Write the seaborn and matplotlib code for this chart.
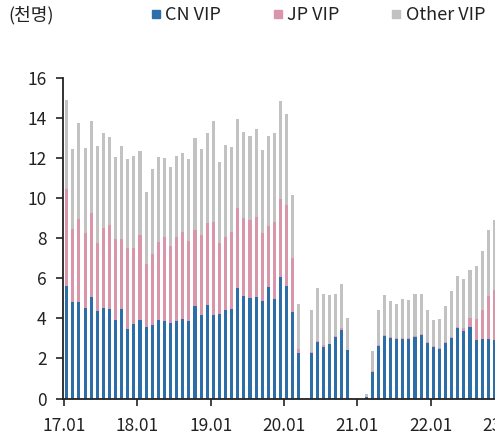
import matplotlib
matplotlib.use("Agg")
import matplotlib.pyplot as plt
from matplotlib.lines import Line2D
import numpy as np
import pandas as pd
import seaborn as sns

# monthly VIP visitors (thousand), 17.01 - 22.11
months = [f"{y}.{m:02d}" for y in range(17, 23) for m in range(1, 13)][:71]
cn = [5.62, 4.82, 4.82, 4.53, 5.07, 4.38, 4.50, 4.45, 3.93, 4.47, 3.48, 3.70,
      3.92, 3.57, 3.67, 3.93, 3.88, 3.78, 3.87, 3.97, 3.88, 4.62, 4.17, 4.68,
      4.18, 4.22, 4.42, 4.47, 5.52, 5.12, 5.03, 5.07, 4.85, 5.58, 4.95, 6.05,
      5.62, 4.33, 2.27, 0.00, 2.28, 2.82, 2.57, 2.72, 3.07, 3.42, 2.40, 0.00,
      0.00, 0.05, 1.33, 2.63, 3.12, 3.02, 2.97, 2.97, 2.98, 3.07, 3.15, 2.75,
      2.58, 2.47, 2.77, 3.02, 3.53, 3.37, 3.58, 2.90, 2.97, 2.97, 2.93]
jp = [4.85, 3.66, 4.15, 3.72, 4.20, 3.39, 4.03, 4.22, 4.04, 3.50, 4.04, 3.82,
      4.26, 3.16, 3.56, 3.89, 4.19, 3.85, 4.20, 4.35, 4.00, 3.81, 4.01, 4.09,
      4.65, 3.55, 3.65, 3.86, 4.01, 3.91, 3.90, 4.01, 3.42, 3.05, 3.88, 3.93,
      4.06, 2.70, 0.20, 0.00, 0.02, 0.03, 0.10, 0.01, 0.06, 0.11, 0.03, 0.00,
      0.00, 0.00, 0.04, 0.04, 0.03, 0.05, 0.03, 0.03, 0.04, 0.05, 0.05, 0.05,
      0.05, 0.03, 0.05, 0.03, 0.05, 0.16, 0.42, 1.08, 1.46, 2.16, 2.50]
other = [4.43, 4.00, 4.78, 4.28, 4.58, 4.86, 4.75, 4.41, 4.08, 4.63, 4.45, 4.61,
         4.19, 3.60, 4.22, 4.23, 3.93, 3.94, 4.05, 3.95, 4.09, 4.59, 4.30, 4.50,
         5.02, 4.06, 4.58, 4.24, 4.45, 4.27, 4.17, 4.37, 4.15, 4.49, 4.44, 4.89,
         4.52, 3.14, 2.26, 0.00, 2.13, 2.65, 2.55, 2.44, 2.10, 2.20, 1.59, 0.00,
         0.00, 0.15, 1.00, 1.75, 2.00, 1.80, 1.70, 1.97, 1.90, 2.08, 2.00, 1.60,
         1.27, 1.45, 1.80, 2.32, 2.52, 2.45, 2.43, 2.64, 2.92, 3.29, 3.49]
tick_labels = ["17.01", "18.01", "19.01", "20.01", "21.01", "22.01", "23.01"]

BLUE = "#2d6ea9"
PINK = "#d996ab"
GRAY = "#c2c2c2"
INK = "#222222"

sns.set_style("ticks")
plt.rcParams["font.family"] = ["Noto Sans CJK KR", "DejaVu Sans"]

df = pd.DataFrame({"month": months, "cn": cn, "jp": jp, "other": other})
df["pos"] = np.arange(len(df)) + 0.44
df["cnjp"] = df.cn + df.jp
df["total"] = df.cnjp + df.other

fig = plt.figure(figsize=(4.95, 4.36), dpi=100)
ax = fig.add_axes([63.4 / 495, 37.5 / 436, 465 / 495, 320.2 / 436])

for col, c in [("total", GRAY), ("cnjp", PINK), ("cn", BLUE)]:
    sns.barplot(data=df, x="pos", y=col, native_scale=True, width=0.5,
                color=c, saturation=1, linewidth=0, errorbar=None, ax=ax)

ax.set_xlim(-0.1, 76)
ax.set_ylim(0, 16)
ax.set_xticks(np.arange(0, 76, 12))
ax.set_xticklabels(tick_labels)
ax.set_yticks(range(0, 17, 2))
ax.set_xlabel("")
ax.set_ylabel("")
sns.despine(ax=ax)
for s in ["left", "bottom"]:
    ax.spines[s].set_color(INK)
    ax.spines[s].set_linewidth(1.3)
ax.tick_params(axis="both", length=5, width=1.2, color=INK, labelcolor=INK,
               labelsize=12.5)
ax.tick_params(axis="y", pad=7)
ax.tick_params(axis="x", pad=8)

fig.text(8 / 495, 1 - 15 / 436, "(천명)", fontsize=13, va="center", color=INK)
handles = [Line2D([], [], marker="s", ls="none", markersize=6, color=c)
           for c in (BLUE, PINK, GRAY)]
fig.legend(handles, ["CN VIP", "JP VIP", "Other VIP"], loc="center left",
           bbox_to_anchor=(151 / 495, 1 - 15 / 436), ncol=3, frameon=False,
           fontsize=13, handlelength=0.6, handletextpad=0.2,
           columnspacing=2.85, borderpad=0, borderaxespad=0, labelcolor=INK)

fig.savefig("out.png", dpi=100)
